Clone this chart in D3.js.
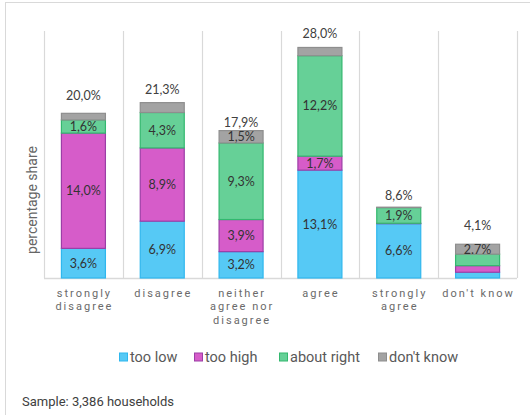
<!DOCTYPE html>
<html>
<head>
<meta charset="utf-8">
<script src="https://cdn.jsdelivr.net/npm/d3@7"></script>
<style>
  html, body { margin: 0; padding: 0; background: #fff; }
  svg { display: block; }
</style>
</head>
<body>
<svg id="chart" width="530" height="415"></svg>
<script>
// ---------- data ----------
const categories = ["strongly disagree", "disagree", "neither agree nor disagree", "agree", "strongly agree", "don't know"];
const categoryLines = [["strongly", "disagree"], ["disagree"], ["neither", "agree nor", "disagree"], ["agree"], ["strongly", "agree"], ["don't know"]];
const seriesNames = ["too low", "too high", "about right", "don't know"];
const tooLow     = [3.6, 6.9, 3.2, 13.1, 6.6, 0.7];
const tooHigh    = [14.0, 8.9, 3.9, 1.7, 0.05, 0.8];
const aboutRight = [1.6, 4.3, 9.3, 12.2, 1.9, 1.4];
const dontKnow   = [0.8, 1.2, 1.5, 1.0, 0.05, 1.2];
const totalLabels = ["20,0%", "21,3%", "17,9%", "28,0%", "8,6%", "4,1%"];
const tooLowLabels     = ["3,6%", "6,9%", "3,2%", "13,1%", "6,6%", null];
const tooHighLabels    = ["14,0%", "8,9%", "3,9%", "1,7%", null, null];
const aboutRightLabels = ["1,6%", "4,3%", "9,3%", "12,2%", "1,9%", null];
const dontKnowLabels   = [null, null, "1,5%", null, null, "2.7%"];
const yMax = 30;
const yLabel = "percentage share";
const note = "Sample: 3,386 households";

// ---------- styles ----------
const fills   = ["#56c9f5", "#d65cc9", "#66d097", "#a3a3a3"];
const strokes = ["#2fb7ee", "#9c3ea6", "#33b86f", "#8e8e8e"];
const totalNudge = [18, 13, 8, 14, 12, 19];

const seriesValues = [tooLow, tooHigh, aboutRight, dontKnow];
const seriesLabels = [tooLowLabels, tooHighLabels, aboutRightLabels, dontKnowLabels];

const svg = d3.select("#chart");
const margin = { left: 44, right: 13, top: 31, bottom: 137 };
const W = 530, H = 415;
const plotW = W - margin.left - margin.right;
const plotH = H - margin.top - margin.bottom;

// frame
svg.append("line").attr("x1", 5).attr("x2", 530).attr("y1", 2.5).attr("y2", 2.5)
  .attr("stroke", "#d9d9d9").attr("stroke-width", 1);
svg.append("line").attr("x1", 5.5).attr("x2", 5.5).attr("y1", 2).attr("y2", 415)
  .attr("stroke", "#d9d9d9").attr("stroke-width", 1);

const g = svg.append("g").attr("transform", `translate(${margin.left},${margin.top})`);

const x = d3.scaleBand().domain(categories).range([0, plotW]).paddingInner(0).paddingOuter(0);
const y = d3.scaleLinear().domain([0, yMax]).range([plotH, 0]);

// vertical separators
const seps = d3.range(categories.length + 1).map(i => i * x.step());
g.selectAll("line.sep").data(seps).join("line")
  .attr("class", "sep")
  .attr("x1", d => Math.round(d) + 0.5).attr("x2", d => Math.round(d) + 0.5)
  .attr("y1", 0).attr("y2", plotH)
  .attr("stroke", "#d9d9d9").attr("stroke-width", 1.2);

// baseline
g.append("line").attr("x1", 0).attr("x2", plotW).attr("y1", plotH + 0.5).attr("y2", plotH + 0.5)
  .attr("stroke", "#d9d9d9").attr("stroke-width", 1.5);

// stacks
const rows = categories.map((c, i) => {
  const r = { cat: c };
  seriesNames.forEach((s, j) => r[s] = seriesValues[j][i]);
  return r;
});
const stacked = d3.stack().keys(seriesNames)(rows);
const barW = 44;
const bx = d => x(d.data.cat) + x.bandwidth() / 2 - barW / 2;

const layers = g.selectAll("g.layer").data(stacked).join("g").attr("class", "layer");
layers.each(function(layer, j) {
  d3.select(this).selectAll("rect").data(layer).join("rect")
    .attr("x", d => bx(d))
    .attr("width", barW)
    .attr("y", d => y(d[1]))
    .attr("height", d => Math.max(0, y(d[0]) - y(d[1])))
    .attr("fill", fills[j])
    .attr("stroke", strokes[j])
    .attr("stroke-width", 1.2);
});

const labelFont = "Lato, 'Open Sans', sans-serif";
layers.each(function(layer, j) {
  d3.select(this).selectAll("text").data(layer.filter((d, i) => seriesLabels[j][i]))
    .join("text")
    .attr("x", d => x(d.data.cat) + x.bandwidth() / 2)
    .attr("y", d => (y(d[0]) + y(d[1])) / 2)
    .attr("dy", "0.36em")
    .attr("text-anchor", "middle")
    .attr("font-family", labelFont)
    .attr("font-size", 12.5)
    .attr("fill", "#333")
    .text(d => seriesLabels[j][categories.indexOf(d.data.cat)]);
});

// totals
const topLayer = stacked[stacked.length - 1];
g.selectAll("text.total").data(topLayer).join("text")
  .attr("class", "total")
  .attr("x", d => x(d.data.cat) + x.bandwidth() / 2)
  .attr("y", (d, i) => y(d[1]) - totalNudge[i])
  .attr("dy", "0.36em")
  .attr("text-anchor", "middle")
  .attr("font-family", labelFont)
  .attr("font-size", 12.5)
  .attr("fill", "#404040")
  .text((d, i) => totalLabels[i]);

// category labels
const catG = g.selectAll("g.cat").data(categories).join("g").attr("class", "cat")
  .attr("transform", d => `translate(${x(d) + x.bandwidth() / 2},${plotH + 15})`);
catG.each(function(d, i) {
  d3.select(this).selectAll("text").data(categoryLines[i]).join("text")
    .attr("x", 1)
    .attr("y", (t, k) => k * 13.5)
    .attr("dy", "0.36em")
    .attr("text-anchor", "middle")
    .attr("font-family", "Roboto, 'Liberation Sans', sans-serif")
    .attr("font-size", 11)
    .attr("letter-spacing", "2px")
    .attr("fill", "#6a6a6a")
    .text(t => t);
});

// y label
svg.append("text")
  .attr("transform", `translate(32,200) rotate(-90)`)
  .attr("text-anchor", "middle")
  .attr("dy", "0.36em")
  .attr("font-family", "Roboto, 'Liberation Sans', sans-serif")
  .attr("font-size", 14)
  .attr("fill", "#666")
  .text(yLabel);

// legend
const legendX = [119, 194, 279, 378];
const leg = svg.selectAll("g.leg").data(seriesNames).join("g").attr("class", "leg")
  .attr("transform", (d, i) => `translate(${legendX[i]},357)`);
leg.append("rect").attr("x", 0.5).attr("y", -4).attr("width", 8).attr("height", 8)
  .attr("fill", (d, i) => fills[i]).attr("stroke", (d, i) => strokes[i]).attr("stroke-width", 1);
leg.append("text").attr("x", 11).attr("y", 0).attr("dy", "0.36em")
  .attr("font-family", "Roboto, 'Liberation Sans', sans-serif")
  .attr("font-size", 14.5)
  .attr("fill", "#595959")
  .text(d => d);

// note
svg.append("text").attr("x", 22).attr("y", 401).attr("dy", "0.36em")
  .attr("font-family", "Roboto, 'Liberation Sans', sans-serif")
  .attr("font-size", 13)
  .attr("fill", "#404040")
  .text(note);
</script>
</body>
</html>
